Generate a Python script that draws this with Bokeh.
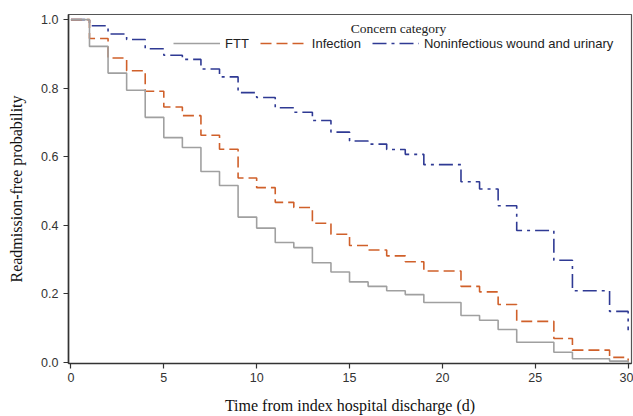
from bokeh.plotting import figure
from bokeh.models import (Range1d, FixedTicker, NumeralTickFormatter, Legend,
                          LegendItem, Label)
from bokeh.embed import file_html
from bokeh.resources import INLINE

# ---- data ----
days = list(range(31))
ftt = [1.0, 0.922, 0.844, 0.794, 0.715, 0.656, 0.627, 0.557, 0.516, 0.424,
       0.392, 0.350, 0.335, 0.291, 0.264, 0.235, 0.222, 0.209, 0.198, 0.175,
       0.175, 0.137, 0.123, 0.096, 0.059, 0.059, 0.030, 0.011, 0.011, 0.004,
       0.0]
infection = [1.0, 0.945, 0.888, 0.851, 0.791, 0.745, 0.720, 0.663, 0.622, 0.538,
             0.510, 0.467, 0.452, 0.406, 0.374, 0.341, 0.328, 0.311, 0.294, 0.267,
             0.267, 0.222, 0.206, 0.169, 0.120, 0.120, 0.070, 0.036, 0.036, 0.015,
             0.005]
noninfectious = [1.0, 0.982, 0.958, 0.942, 0.915, 0.896, 0.884, 0.856, 0.833, 0.787,
                 0.773, 0.743, 0.730, 0.706, 0.672, 0.646, 0.637, 0.621, 0.607, 0.577,
                 0.577, 0.527, 0.506, 0.457, 0.385, 0.385, 0.298, 0.209, 0.209, 0.149,
                 0.094]
series_names = ["FTT", "Infection", "Noninfectious wound and urinary"]
legend_title = "Concern category"
x_ticks = [0, 5, 10, 15, 20, 25, 30]
y_ticks = [0.0, 0.2, 0.4, 0.6, 0.8, 1.0]

GRAY = "#a0a0a0"
ORANGE = "#d0602a"
BLUE = "#2f3a94"

p = figure(width=633, height=416, output_backend="svg", toolbar_location=None,
           x_range=Range1d(-0.13, 30.18), y_range=Range1d(-0.003, 1.015),
           min_border_left=68, min_border_right=2, min_border_top=14,
           min_border_bottom=53)

r_non = p.step(days, noninfectious, mode="after", line_color=BLUE,
               line_width=1.6, line_dash="14 5 3 5")
r_inf = p.step(days, infection, mode="after", line_color=ORANGE,
               line_width=1.6, line_dash="11 5")
r_ftt = p.step(days, ftt, mode="after", line_color=GRAY, line_width=1.6)

p.xgrid.visible = False
p.ygrid.visible = False
p.outline_line_color = "#555555"
p.outline_line_width = 1.2

p.xaxis.ticker = FixedTicker(ticks=x_ticks)
p.yaxis.ticker = FixedTicker(ticks=y_ticks)
p.yaxis.formatter = NumeralTickFormatter(format="0.0")

for ax in (p.xaxis, p.yaxis):
    ax.major_tick_out = 5
    ax.major_tick_in = 0
    ax.minor_tick_line_color = None
    ax.axis_line_color = "#333333"
    ax.axis_line_width = 1.6
    ax.major_tick_line_color = "#333333"
    ax.major_tick_line_width = 1.2
    ax.major_label_text_font = "Liberation Sans"
    ax.major_label_text_font_size = "12.5px"
    ax.major_label_text_color = "#333333"
    ax.axis_label_text_font = "Liberation Serif"
    ax.axis_label_text_font_size = "16px"
    ax.axis_label_text_font_style = "normal"
    ax.axis_label_text_color = "#111111"

p.xaxis.major_label_standoff = 4
p.xaxis.axis_label_standoff = 12
p.yaxis.major_label_standoff = 5
p.yaxis.axis_label_standoff = 13

p.xaxis.axis_label = "Time from index hospital discharge (d)"
p.yaxis.axis_label = "Readmission-free probability"

legend = Legend(items=[LegendItem(label=series_names[0], renderers=[r_ftt]),
                       LegendItem(label=series_names[1], renderers=[r_inf]),
                       LegendItem(label=series_names[2], renderers=[r_non])],
                orientation="horizontal", location=(105, 310), padding=0,
                margin=0, spacing=11, label_standoff=5, glyph_width=47,
                glyph_height=20, label_height=20, border_line_alpha=0,
                background_fill_alpha=0, label_text_font="Liberation Sans",
                label_text_font_size="13px", label_text_color="#222222")
p.add_layout(legend)

p.add_layout(Label(x=330, y=335, x_units="screen", y_units="screen",
                   text=legend_title, text_font="Liberation Serif",
                   text_font_size="13.5px", text_align="center",
                   text_baseline="middle", text_color="#222222"))

open("out.html", "w").write(file_html(p, INLINE))
